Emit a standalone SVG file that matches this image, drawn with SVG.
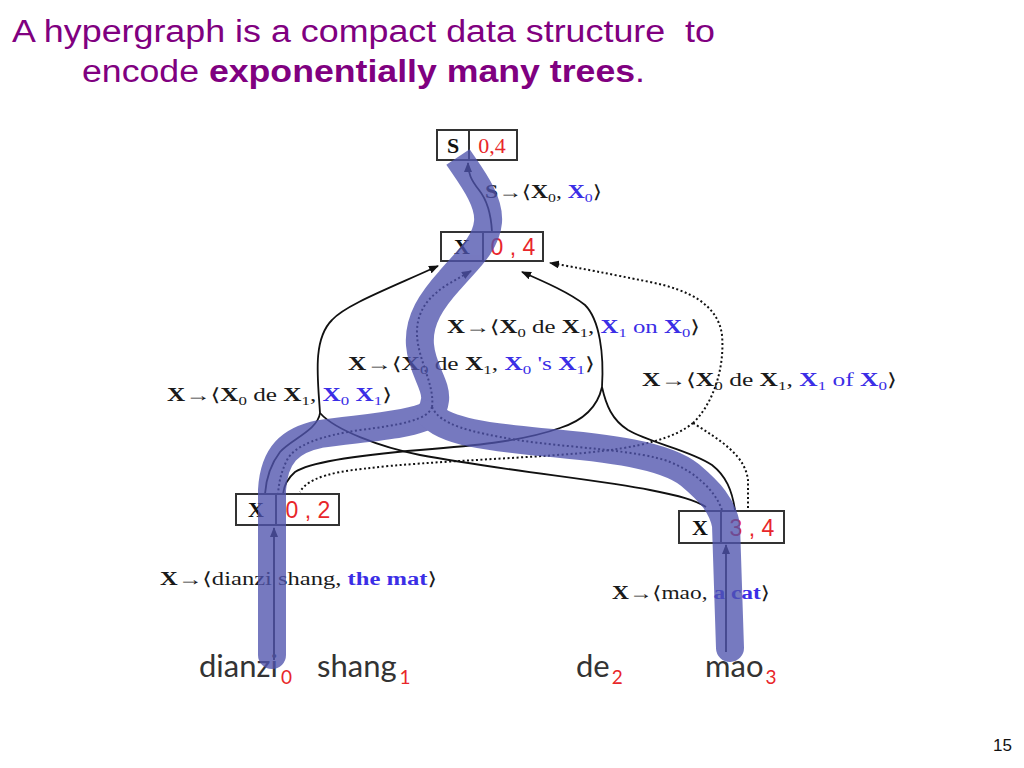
<svg xmlns="http://www.w3.org/2000/svg" width="1024" height="768" viewBox="0 0 1024 768">
<style>
.title{font-family:"Liberation Sans",Arial,sans-serif;font-size:31px;fill:#800080}
.bx{fill:#fff;stroke:#333;stroke-width:2}
.div{stroke:#333;stroke-width:2}
.nl{font-family:"Liberation Serif","DejaVu Serif",serif;font-size:22px;font-weight:bold;fill:#111;text-anchor:middle}
.nr{font-family:"Liberation Serif","DejaVu Serif",serif;font-size:22px;fill:#e8262a;text-anchor:middle}
.ns{font-family:"Liberation Sans","DejaVu Sans",sans-serif;font-size:23px;fill:#e8262a;text-anchor:middle}
.sol{fill:none;stroke:#111;stroke-width:1.8}
.dot{fill:none;stroke:#111;stroke-width:2;stroke-dasharray:2 2.5}
.rl{font-family:"Liberation Serif","DejaVu Serif",serif;font-size:18px;fill:#1a1a1a}
.b{font-weight:bold}
.bl{fill:#3b2ee6}
.sub{font-size:12px}
.w{font-family:Lato,"Open Sans",sans-serif;font-size:31px;fill:#333}
.ws{font-family:Lato,"Open Sans",sans-serif;font-size:19px;fill:#e8262a}
.hl{fill:none;stroke:rgb(80,84,174);stroke-width:28}
</style>
<defs>
<marker id="ah" markerUnits="userSpaceOnUse" markerWidth="10" markerHeight="8" refX="9" refY="4" orient="auto">
<path d="M0,0 L10,4 L0,8 z" fill="#111"/>
</marker>
</defs>

<g id="title">
<text class="title" x="12" y="42" textLength="703" lengthAdjust="spacingAndGlyphs" xml:space="preserve">A hypergraph is a compact data structure  to</text>
<text class="title" x="82" y="82" textLength="563" lengthAdjust="spacingAndGlyphs">encode <tspan font-weight="bold">exponentially many trees</tspan>.</text>
</g>

<g id="connectors">
<!-- S rule -->
<path class="sol" d="M492,232 C491,212 487,200 479,190 C471,180 468,173 468,163" marker-end="url(#ah)"/>
<!-- leaf rules -->
<path class="sol" d="M274,660 L274,528" marker-end="url(#ah)"/>
<path class="sol" d="M726,652 L726,545" marker-end="url(#ah)"/>
<!-- hyperedge A (X0 X1) solid -->
<path class="sol" d="M320,413 C318,380 312,340 332,320 C345,305 390,288 438,266" marker-end="url(#ah)"/>
<path class="sol" d="M320,413 C318,430 290,440 280,452 C270,465 266,480 265,494"/>
<path class="sol" d="M320,413 C335,430 380,447 420,455 C500,470 600,480 650,490 C680,496 695,500 706,507"/>
<!-- hyperedge B solid -->
<path class="sol" d="M602,387 C604,355 600,320 585,305 C570,293 545,282 522,272" marker-end="url(#ah)"/>
<path class="sol" d="M602,387 C598,405 585,420 560,428 C520,442 470,446 420,450 C360,455 310,462 295,472 C288,478 284,485 283,494"/>
<path class="sol" d="M602,387 C606,405 612,420 628,430 C650,443 690,450 712,465 C726,476 732,490 735,510"/>
<!-- hyperedge C dotted -->
<path class="dot" d="M693,423 C712,405 725,370 722,335 C718,305 690,290 650,282 C610,274 580,268 550,263" marker-end="url(#ah)"/>
<path class="dot" d="M693,423 C675,438 640,448 583,453 C500,460 400,462 340,472 C320,476 305,482 300,492"/>
<path class="dot" d="M693,423 C720,440 745,455 748,480 L748,508"/>
<!-- hyperedge D dotted -->
<path class="dot" d="M432,407 C435,385 418,360 417,335 C416,310 430,295 450,283 L471,271" marker-end="url(#ah)"/>
<path class="dot" d="M432,407 C428,420 400,425 360,430 C320,436 295,445 287,460 C281,472 279,482 278,494"/>
<path class="dot" d="M432,407 C440,425 470,432 517,440 C570,448 640,450 670,462 C695,472 715,490 722,510"/>
</g>

<g id="node-S">
<rect class="bx" x="437" y="130" width="80" height="30"/>
<line class="div" x1="469" y1="130" x2="469" y2="160"/>
<text class="nl" x="453" y="153">S</text>
<text class="nr" x="492" y="153">0,4</text>
</g>
<g id="node-X04">
<rect class="bx" x="441" y="232" width="102" height="29"/>
<line class="div" x1="483" y1="232" x2="483" y2="261"/>
<text class="nl" x="462" y="254">X</text>
<text class="ns" x="513" y="255" xml:space="preserve">0 , 4</text>
</g>
<g id="node-X02">
<rect class="bx" x="236" y="494" width="103" height="31"/>
<line class="div" x1="276" y1="494" x2="276" y2="525"/>
<text class="nl" x="256" y="517">X</text>
<text class="ns" x="308" y="518" xml:space="preserve">0 , 2</text>
</g>
<g id="node-X34">
<rect class="bx" x="679" y="511" width="105" height="32"/>
<line class="div" x1="721" y1="511" x2="721" y2="543"/>
<text class="nl" x="700" y="535">X</text>
<text class="ns" x="752" y="536" xml:space="preserve">3 , 4</text>
</g>

<g id="rule-labels">
<text class="rl" x="485" y="198" textLength="117" lengthAdjust="spacingAndGlyphs"><tspan class="b">S</tspan>→⟨<tspan class="b">X</tspan><tspan class="sub" dy="4">0</tspan><tspan dy="-4">, </tspan><tspan class="b bl">X</tspan><tspan class="sub bl" dy="4">0</tspan><tspan dy="-4">⟩</tspan></text>
<text class="rl" x="447" y="333" textLength="253" lengthAdjust="spacingAndGlyphs"><tspan class="b">X</tspan>→⟨<tspan class="b">X</tspan><tspan class="sub" dy="4">0</tspan><tspan dy="-4"> de </tspan><tspan class="b">X</tspan><tspan class="sub" dy="4">1</tspan><tspan dy="-4">, </tspan><tspan class="b bl">X</tspan><tspan class="sub bl" dy="4">1</tspan><tspan class="bl" dy="-4"> on </tspan><tspan class="b bl">X</tspan><tspan class="sub bl" dy="4">0</tspan><tspan dy="-4">⟩</tspan></text>
<text class="rl" x="348" y="370" textLength="247" lengthAdjust="spacingAndGlyphs"><tspan class="b">X</tspan>→⟨<tspan class="b">X</tspan><tspan class="sub" dy="4">0</tspan><tspan dy="-4"> de </tspan><tspan class="b">X</tspan><tspan class="sub" dy="4">1</tspan><tspan dy="-4">, </tspan><tspan class="b bl">X</tspan><tspan class="sub bl" dy="4">0</tspan><tspan class="bl" dy="-4"> 's </tspan><tspan class="b bl">X</tspan><tspan class="sub bl" dy="4">1</tspan><tspan dy="-4">⟩</tspan></text>
<text class="rl" x="167" y="401" textLength="225" lengthAdjust="spacingAndGlyphs"><tspan class="b">X</tspan>→⟨<tspan class="b">X</tspan><tspan class="sub" dy="4">0</tspan><tspan dy="-4"> de </tspan><tspan class="b">X</tspan><tspan class="sub" dy="4">1</tspan><tspan dy="-4">, </tspan><tspan class="b bl">X</tspan><tspan class="sub bl" dy="4">0</tspan><tspan dy="-4"> </tspan><tspan class="b bl">X</tspan><tspan class="sub bl" dy="4">1</tspan><tspan dy="-4">⟩</tspan></text>
<text class="rl" x="642" y="386" textLength="255" lengthAdjust="spacingAndGlyphs"><tspan class="b">X</tspan>→⟨<tspan class="b">X</tspan><tspan class="sub" dy="4">0</tspan><tspan dy="-4"> de </tspan><tspan class="b">X</tspan><tspan class="sub" dy="4">1</tspan><tspan dy="-4">, </tspan><tspan class="b bl">X</tspan><tspan class="sub bl" dy="4">1</tspan><tspan class="bl" dy="-4"> of </tspan><tspan class="b bl">X</tspan><tspan class="sub bl" dy="4">0</tspan><tspan dy="-4">⟩</tspan></text>
<text class="rl" x="160" y="585" textLength="277" lengthAdjust="spacingAndGlyphs"><tspan class="b">X</tspan>→⟨dianzi shang, <tspan class="b bl">the mat</tspan>⟩</text>
<text class="rl" x="612" y="599" textLength="158" lengthAdjust="spacingAndGlyphs"><tspan class="b">X</tspan>→⟨mao, <tspan class="b bl">a cat</tspan>⟩</text>
</g>

<g id="words">
<text class="w" x="199" y="677">dianzi<tspan class="ws" dx="3" dy="7">0</tspan></text>
<text class="w" x="317" y="677">shang<tspan class="ws" dx="3" dy="7">1</tspan></text>
<text class="w" x="576" y="677">de<tspan class="ws" dx="2" dy="7">2</tspan></text>
<text class="w" x="705" y="677">mao<tspan class="ws" dx="2" dy="7">3</tspan></text>
</g>

<g id="highlight" opacity="0.78">
<path class="hl" stroke-linecap="butt" d="M458,157 C470,175 490,200 488,222 C486,245 465,262 450,280 C432,300 418,320 420,345 C422,370 437,385 435,400 C434,408 432,411 430,414"/>
<path class="hl" stroke-linecap="round" d="M430,414 C415,425 360,428 320,434 C290,440 274,455 272,490 L272,655"/>
<path class="hl" stroke-linecap="round" d="M430,414 C445,432 490,437 540,442 C610,448 665,455 690,475 C710,492 722,505 726,525 L730,648"/>
</g>

<text x="1012" y="751" text-anchor="end" font-family="Liberation Sans,Arial,sans-serif" font-size="17" fill="#111">15</text>
</svg>
